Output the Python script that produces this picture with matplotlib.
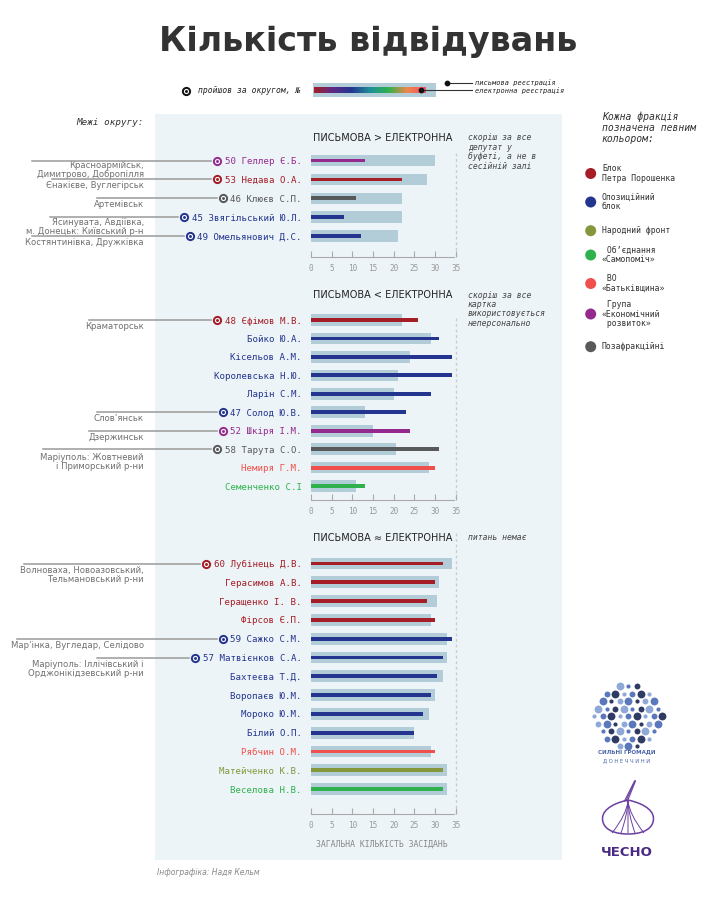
import matplotlib
matplotlib.use("Agg")
import numpy as np
import matplotlib.pyplot as plt
from matplotlib.colors import LinearSegmentedColormap
from matplotlib.patches import Rectangle, Circle, PathPatch
from matplotlib.path import Path

# ---------------- data ----------------
title = "Кількість відвідувань"

party_keys = ["bpp", "opp", "nf", "samo", "batk", "econ", "none"]
party_labels = ["Блок\nПетра Порошенка", "Опозиційний\nблок", "Народний фронт",
                " Об’єднання\n«Самопоміч»", " ВО\n«Батьківщина»",
                " Група\n«Економічний\n розвиток»", "Позафракційні"]

p1_title = "ПИСЬМОВА > ЕЛЕКТРОННА"
p1_note = "скоріш за все\nдепутат у\nбуфеті, а не в\nсесійній залі"
p1_names = ["Геллер Є.Б.", "Недава О.А.", "Клюєв С.П.", "Звягільський Ю.Л.", "Омельянович Д.С."]
p1_district = [50, 53, 46, 45, 49]
p1_party = ["econ", "bpp", "none", "opp", "opp"]
p1_written = [30, 28, 22, 22, 21]
p1_electronic = [13, 22, 11, 8, 12]
p1_regions = ["Красноармійськ,\nДимитрово, Добропілля", "Єнакієве, Вуглегірськ", "Артемівськ",
              "Ясинувата, Авдіївка,\nм. Донецьк: Київський р-н", "Костянтинівка, Дружківка"]

p2_title = "ПИСЬМОВА < ЕЛЕКТРОННА"
p2_note = "скоріш за все\nкартка\nвикористовується\nнеперсонально"
p2_names = ["Єфімов М.В.", "Бойко Ю.А.", "Кісельов А.М.", "Королевська Н.Ю.", "Ларін С.М.",
            "Солод Ю.В.", "Шкіря І.М.", "Тарута С.О.", "Немиря Г.М.", "Семенченко С.І"]
p2_district = [48, None, None, None, None, 47, 52, 58, None, None]
p2_party = ["bpp", "opp", "opp", "opp", "opp", "opp", "econ", "none", "batk", "samo"]
p2_written = [22, 29, 24, 21, 20, 13, 15, 20.5, 28.5, 11]
p2_electronic = [26, 31, 34, 34, 29, 23, 24, 31, 30, 13]
p2_regions = ["Краматорськ", None, None, None, None, "Слов’янськ", "Дзержинськ",
              "Маріуполь: Жовтневий\nі Приморський р-ни", None, None]

p3_title = "ПИСЬМОВА ≈ ЕЛЕКТРОННА"
p3_note = "питань немає"
p3_names = ["Лубінець Д.В.", "Герасимов А.В.", "Геращенко І. В.", "Фірсов Є.П.", "Сажко С.М.",
            "Матвієнков С.А.", "Бахтеєва Т.Д.", "Воропаєв Ю.М.", "Мороко Ю.М.", "Білий О.П.",
            "Рябчин О.М.", "Матейченко К.В.", "Веселова Н.В."]
p3_district = [60, None, None, None, 59, 57, None, None, None, None, None, None, None]
p3_party = ["bpp", "bpp", "bpp", "bpp", "opp", "opp", "opp", "opp", "opp", "opp", "batk", "nf", "samo"]
p3_written = [34, 31, 30.5, 29, 33, 33, 32, 30, 28.5, 25, 29, 33, 33]
p3_electronic = [32, 30, 28, 30, 34, 32, 30.5, 29, 27, 25, 30, 32, 32]
p3_regions = ["Волноваха, Новоазовський,\nТельмановський р-ни", None, None, None,
              "Мар’інка, Вугледар, Селідово", "Маріуполь: Іллічівський і\nОрджонікідзевський р-ни",
              None, None, None, None, None, None, None]

x_ticks = [0, 5, 10, 15, 20, 25, 30, 35]
x_label = "ЗАГАЛЬНА КІЛЬКІСТЬ ЗАСІДАНЬ"

# ---------------- styles / layout ----------------
PARTY_COLORS = {"bpp": "#a51d26", "opp": "#24358f", "nf": "#84983b", "samo": "#2fb24d",
                "batk": "#f04f4b", "econ": "#952a8e", "none": "#58595b"}
GRAY_BAR = "#b3cdd8"
BG_PANEL = "#edf4f7"
MONO = "DejaVu Sans Mono"
SANS = "DejaVu Sans"

W, H = 710, 905
fig = plt.figure(figsize=(W / 100, H / 100), dpi=100)
fig.patch.set_facecolor("white")

ov = fig.add_axes([0, 0, 1, 1], zorder=0)
ov.axis("off")

# light panel background
ov.add_patch(Rectangle((155, 114), 406.7, 746, facecolor=BG_PANEL, edgecolor="none", zorder=0))

# title
ov.text(368, 42, title, fontsize=24, fontweight="bold", color="#333333",
        ha="center", va="center", family=SANS)


def district_marker(x, y, c):
    ov.scatter([x], [y], s=44, color=c, zorder=5, linewidths=0)
    ov.scatter([x], [y], s=14, color="white", zorder=6, linewidths=0)
    ov.scatter([x], [y], s=4.5, color=c, zorder=7, linewidths=0)


# top legend
ov.text(198, 90.7, "пройшов за округом, №", fontsize=5.8, style="italic", family=MONO,
        color="#222222", va="center", ha="left")
district_marker(186, 90.7, "#111111")
ov.add_patch(Rectangle((312.7, 83.3), 123, 14, facecolor=GRAY_BAR, edgecolor="none", zorder=2))
grad_cmap = LinearSegmentedColormap.from_list(
    "g", ["#a51d26", "#5b2a86", "#24358f", "#1f8f9a", "#2fb24d", "#f0874b", "#f04f6a"])
ov.imshow(np.linspace(0, 1, 256)[None, :], cmap=grad_cmap, aspect="auto",
          extent=(314, 425.7, 93.3, 87.7), zorder=3)
ov.plot([420.7, 471.7], [90.5, 90.5], color="#333333", lw=0.8, zorder=4)
ov.plot([446.7, 471.7], [83.3, 83.3], color="#333333", lw=0.8, zorder=4)
ov.scatter([420.7, 446.7], [90.5, 83.3], s=10, color="#111111", zorder=5)
ov.text(475, 82.8, "письмова реєстрація", fontsize=5.0, style="italic", family=MONO,
        color="#222222", va="center")
ov.text(475, 90.5, "електронна реєстрація", fontsize=5.0, style="italic", family=MONO,
        color="#222222", va="center")

ov.text(144, 122.7, "Межі округу:", fontsize=6.7, style="italic", family=MONO,
        color="#333333", ha="right", va="center")

# right legend
ov.text(601.7, 111, "Кожна фракція\nпозначена певним\nкольором:", fontsize=7.0,
        style="italic", family=MONO, color="#333333", va="top", ha="left", linespacing=1.15)
legend_y = [173.5, 202, 230.7, 255, 283.5, 314, 346.7]
for key, lab, yy in zip(party_keys, party_labels, legend_y):
    ov.add_patch(Circle((590.7, yy), 5.5, facecolor=PARTY_COLORS[key], edgecolor="none"))
    ov.text(602, yy, lab, fontsize=5.9, family=MONO, color="#333333",
            va="center", ha="left", linespacing=1.05)

# panels
panels = [
    dict(title=p1_title, note=p1_note, names=p1_names, district=p1_district, party=p1_party,
         written=p1_written, electronic=p1_electronic, regions=p1_regions,
         title_y=138, note_y=133.5, first=160.6, step=18.9, axis=256.7, dash_top=153),
    dict(title=p2_title, note=p2_note, names=p2_names, district=p2_district, party=p2_party,
         written=p2_written, electronic=p2_electronic, regions=p2_regions,
         title_y=295, note_y=290.5, first=320, step=18.45, axis=500, dash_top=318),
    dict(title=p3_title, note=p3_note, names=p3_names, district=p3_district, party=p3_party,
         written=p3_written, electronic=p3_electronic, regions=p3_regions,
         title_y=537.5, note_y=533, first=563.5, step=18.8, axis=814, dash_top=533),
]
LINE_START = {50: 32, 53: 52, 46: 97, 45: 50, 49: 32, 48: 89, 47: 97, 52: 89, 58: 43,
              60: 24, 59: 17, 57: 97}
LABEL_OFFSET = {50: 0.2, 45: 0.4, 58: 3.5}
X0, X35 = 311, 455.7

axes = []
for P in panels:
    top = P["dash_top"] - 4
    ax = fig.add_axes([X0 / W, 1 - P["axis"] / H, (X35 - X0) / W, (P["axis"] - top) / H], zorder=2)
    ax.patch.set_alpha(0)
    n = len(P["names"])
    idx = np.arange(n)
    step = P["step"]
    ax.set_xlim(0, 35)
    ax.set_ylim((P["axis"] - P["first"]) / step, (top - P["first"]) / step)
    cols = [PARTY_COLORS[p] for p in P["party"]]
    ax.barh(idx, P["written"], height=11.7 / step, color=GRAY_BAR, zorder=2)
    ax.barh(idx, P["electronic"], height=3.8 / step, color=cols, zorder=3)
    ax.plot([35, 35], [(P["dash_top"] - P["first"]) / step, (P["axis"] - P["first"]) / step],
            color="#c8cccf", lw=1, dashes=(2, 2), clip_on=False, zorder=1)
    for s in ["top", "right", "left"]:
        ax.spines[s].set_visible(False)
    ax.spines["bottom"].set_color("#aaaaaa")
    ax.spines["bottom"].set_bounds(0, 34.6)
    ax.set_xticks(x_ticks)
    ax.set_xticklabels([str(t) for t in x_ticks], family=MONO, fontsize=5.6, color="#999999")
    ax.tick_params(axis="x", direction="in", length=4.5, width=0.8, color="#aaaaaa", pad=5)
    labels = [(f"{d} " if d is not None else "") + nm for d, nm in zip(P["district"], P["names"])]
    ax.set_yticks(idx)
    ax.set_yticklabels(labels, family=MONO, fontsize=6.6)
    for tl, c in zip(ax.get_yticklabels(), cols):
        tl.set_color(c)
    ax.tick_params(axis="y", length=0, pad=6.5)
    ov.text(312.7, P["title_y"], P["title"], fontsize=7, family=SANS, color="#222222", va="center")
    ov.text(467.7, P["note_y"], P["note"], fontsize=5.9, style="italic", family=MONO,
            color="#444444", va="top", ha="left", linespacing=1.05)
    axes.append(ax)

ov.text(382, 844, x_label, fontsize=5.9, family=MONO, color="#888888", ha="center", va="center")

ov.set_xlim(0, W)
ov.set_ylim(H, 0)

fig.canvas.draw()
renderer = fig.canvas.get_renderer()
for ax, P in zip(axes, panels):
    for i, (tl, d, reg, p) in enumerate(zip(ax.get_yticklabels(), P["district"], P["regions"], P["party"])):
        if d is None:
            continue
        bb = tl.get_window_extent(renderer)
        ry = H - ax.transData.transform((0, i))[1]
        mx = bb.x0 - 7.5
        district_marker(mx, ry, PARTY_COLORS[p])
        ov.plot([LINE_START[d], mx - 6], [ry, ry], color="#9a9a9a", lw=1.1, zorder=4)
        ov.text(144, ry + LABEL_OFFSET.get(d, 2.0), reg, fontsize=6.1, family=SANS, color="#707070",
                ha="right", va="top", linespacing=1.0)

# logos (decorative)
cx, cy = 628, 716
logo_cols = ["#2f3b62", "#5a78bb", "#8ea8d8"]
logo_sizes = [32, 18, 9]
for r in range(-4, 5):
    for c in range(-5, 6):
        x = cx + c * 8.5 + (r % 2) * 4.25
        y = cy + r * 7.5
        if ((x - cx) / 34) ** 2 + ((y - cy) / 31) ** 2 <= 1:
            j = (r * 2 + c * 5 + 7) % 3
            ov.scatter([x], [y], s=logo_sizes[j], color=logo_cols[(j + r) % 3], zorder=3,
                       linewidths=0)
ov.text(627, 752, "СИЛЬНІ ГРОМАДИ", fontsize=4.0, fontweight="bold", color="#4a64a8",
        ha="center", va="center", family=SANS)
ov.text(627, 760.5, "Д О Н Е Ч Ч И Н И", fontsize=3.8, color="#4a64a8",
        ha="center", va="center", family=SANS)

garlic = Path([(628, 800), (610, 804), (600, 812), (603, 822),
               (605, 830), (615, 834), (628, 834),
               (641, 834), (651, 830), (653, 822),
               (656, 812), (646, 804), (628, 800)],
              [Path.MOVETO] + [Path.CURVE4] * 12)
ov.add_patch(PathPatch(garlic, facecolor="white", edgecolor="#6b3fa0", lw=1.1, zorder=3))
for ex in [612, 621, 628, 635, 644]:
    inner = Path([(628, 801), ((628 + ex) / 2 - (ex - 628) * 0.4, 815), (ex, 833)],
                 [Path.MOVETO, Path.CURVE3, Path.CURVE3])
    ov.add_patch(PathPatch(inner, facecolor="none", edgecolor="#6b3fa0", lw=0.7, zorder=4))
for dx in [-1.5, 0, 1.5]:
    ov.plot([626 + dx, 635 + dx * 0.3], [801, 781], color="#6b3fa0", lw=0.8, zorder=4)
ov.text(627, 852, "ЧЕСНО", fontsize=9.5, fontweight="bold", color="#4a2a85",
        ha="center", va="center", family=SANS)

ov.text(156.7, 872.7, "Інфографіка: Надя Кельм", fontsize=5.5, style="italic", family=SANS,
        color="#888888", va="center", ha="left")

ov.set_xlim(0, W)
ov.set_ylim(H, 0)
fig.savefig("out.png", dpi=100, facecolor="white")
